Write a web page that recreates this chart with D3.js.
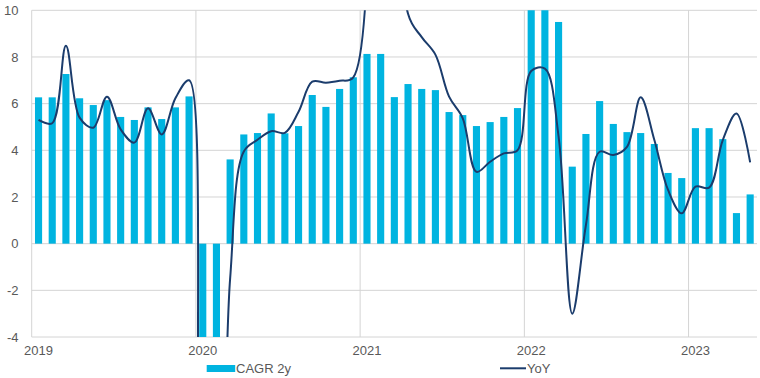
<!DOCTYPE html>
<html>
<head>
<meta charset="utf-8">
<script src="https://cdn.jsdelivr.net/npm/d3@7/dist/d3.min.js"></script>
<style>
  html, body { margin: 0; padding: 0; background: #fff; }
  svg { display: block; font-family: "Liberation Sans", Arial, sans-serif; }
</style>
</head>
<body>
<svg id="chart" width="760" height="378"></svg>
<script>
const months = [
  "2019-01","2019-02","2019-03","2019-04","2019-05","2019-06","2019-07","2019-08","2019-09","2019-10","2019-11","2019-12",
  "2020-01","2020-02","2020-03","2020-04","2020-05","2020-06","2020-07","2020-08","2020-09","2020-10","2020-11","2020-12",
  "2021-01","2021-02","2021-03","2021-04","2021-05","2021-06","2021-07","2021-08","2021-09","2021-10","2021-11","2021-12",
  "2022-01","2022-02","2022-03","2022-04","2022-05","2022-06","2022-07","2022-08","2022-09","2022-10","2022-11","2022-12",
  "2023-01","2023-02","2023-03","2023-04","2023-05"
];
const cagr2y = [
  6.27, 6.27, 7.27, 6.23, 5.94, 6.15, 5.43, 5.30, 5.84, 5.34, 5.84, 6.31,
  -5.2, -5.2, 3.61, 4.68, 4.74, 5.58, 4.73, 5.04, 6.37, 5.86, 6.63, 7.13,
  8.13, 8.13, 6.28, 6.84, 6.63, 6.58, 5.64, 5.51, 5.04, 5.21, 5.43, 5.81,
  11.5, 11.5, 9.50, 3.30, 4.70, 6.11, 5.13, 4.78, 4.74, 4.27, 3.03, 2.81,
  4.95, 4.95, 4.48, 1.31, 2.11
];
const yoy = [
  5.30, 5.16, 8.48, 5.40, 4.97, 6.30, 4.90, 4.33, 5.80, 4.68, 6.23, 7.00,
  -12.0, -14.0, -1.5, 3.95, 4.45, 4.82, 4.75, 5.65, 6.94, 6.90, 6.98, 7.13,
  50.0, 55.0, 40.0, 9.85, 8.85, 8.10, 6.30, 5.37, 3.08, 3.51, 3.87, 4.00,
  7.40, 7.50, 4.60, -3.00, 0.80, 3.94, 3.80, 4.15, 6.27, 4.44, 2.30, 1.30,
  2.44, 2.40, 4.44, 5.58, 3.48
];
const yTicks = [-4, -2, 0, 2, 4, 6, 8, 10];
const yearLabels = ["2019", "2020", "2021", "2022", "2023"];
const seriesNames = ["CAGR 2y", "YoY"];

const svg = d3.select("#chart");
const pLeft = 31.7, pRight = 757, pTop = 10.3, pBottom = 337;
const barColor = "#00b4e0", lineColor = "#1b3c6c", gridColor = "#d4d4d4", textColor = "#595959";

const x = d3.scaleBand().domain(months).range([pLeft, pRight])
  .paddingInner(0.48).paddingOuter(0.24);
const y = d3.scaleLinear().domain([-4, 10]).range([pBottom, pTop]);
const step = x.step();
const cx = m => x(m) + x.bandwidth() / 2;

svg.append("defs").append("clipPath").attr("id", "plotclip")
  .append("rect").attr("x", pLeft).attr("y", pTop).attr("width", pRight - pLeft).attr("height", pBottom - pTop);

svg.append("g").selectAll("line").data(yTicks).join("line")
  .attr("x1", pLeft).attr("x2", pRight)
  .attr("y1", d => y(d)).attr("y2", d => y(d))
  .attr("stroke", gridColor).attr("stroke-width", 1);

svg.append("g").selectAll("line").data(yearLabels).join("line")
  .attr("x1", d => cx(d + "-01") - step / 2).attr("x2", d => cx(d + "-01") - step / 2)
  .attr("y1", pTop).attr("y2", pBottom)
  .attr("stroke", gridColor).attr("stroke-width", 1);

const plot = svg.append("g").attr("clip-path", "url(#plotclip)");

plot.append("g").selectAll("rect").data(months).join("rect")
  .attr("x", m => x(m))
  .attr("width", x.bandwidth())
  .attr("y", (m, i) => y(Math.max(0, cagr2y[i])))
  .attr("height", (m, i) => Math.abs(y(cagr2y[i]) - y(0)))
  .attr("fill", barColor);

const line = d3.line()
  .x((d, i) => cx(months[i]))
  .y(d => y(d))
  .curve(d3.curveCatmullRom.alpha(0.5));

plot.append("path").datum(yoy)
  .attr("d", line)
  .attr("fill", "none")
  .attr("stroke", lineColor)
  .attr("stroke-width", 2)
  .attr("stroke-linejoin", "round");

svg.append("g").selectAll("text").data(yTicks).join("text")
  .attr("x", 18.5).attr("y", d => y(d))
  .attr("dy", "0.35em")
  .attr("text-anchor", "end")
  .attr("font-size", 13).attr("fill", textColor)
  .text(d => d);

svg.append("g").selectAll("text").data(yearLabels).join("text")
  .attr("x", d => cx(d + "-01")).attr("y", 355)
  .attr("text-anchor", "middle")
  .attr("font-size", 13).attr("fill", textColor)
  .text(d => d);

const lg = svg.append("g");
lg.append("rect").attr("x", 206.7).attr("y", 365).attr("width", 28.5).attr("height", 7).attr("fill", barColor);
lg.append("text").attr("x", 236).attr("y", 372.5).attr("font-size", 13).attr("fill", textColor).text(seriesNames[0]);
lg.append("line").attr("x1", 500).attr("x2", 526).attr("y1", 368.3).attr("y2", 368.3)
  .attr("stroke", lineColor).attr("stroke-width", 2);
lg.append("text").attr("x", 527).attr("y", 372.5).attr("font-size", 13).attr("fill", textColor).text(seriesNames[1]);
</script>
</body>
</html>
